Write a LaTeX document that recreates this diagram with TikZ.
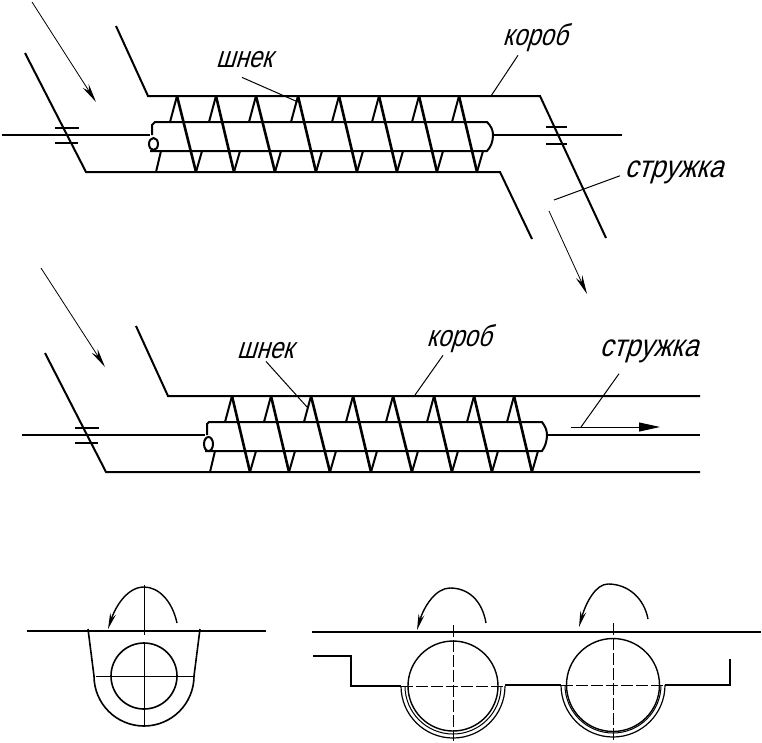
\documentclass[tikz,border=0pt]{standalone}
\usepackage{fontspec}
\usetikzlibrary{arrows.meta}
\newfontfamily\drawfont[FakeSlant=0.3,FakeStretch=0.8]{Liberation Sans}
\newfontfamily\widefont[FakeSlant=0.3,FakeStretch=0.86]{Liberation Sans}
\begin{document}
\begin{tikzpicture}[x=1pt,y=-1pt,
	wall/.style = {line width=2pt},
	shaft/.style = {line width=2pt},
	tooth/.style = {line width=2.6pt},
	fin/.style = {line width=2pt},
	thinline/.style = {line width=1pt},
	flow/.style = {line width=0.8pt,-{Stealth[length=19pt,width=7pt]}},
	spin/.style = {line width=1.4pt,-{Stealth[length=16pt,width=6pt]}},
	axisline/.style = {line width=1pt,dash pattern=on 12pt off 3pt},
	caption/.style = {inner sep=0pt,font=\drawfont\fontsize{30}{30}\selectfont},
	widecaption/.style = {inner sep=0pt,font=\widefont\fontsize{31}{31}\selectfont}]

	\useasboundingbox (0,0) rectangle (762,742);

	% top conveyor
	\node[caption] (shnekA) at (244,60) {шнек};
	\node[caption] (korobA) at (535,38) {короб};
	\node[widecaption] (struzhkaA) at (674,172) {стружка};

	\draw[wall] (116,26) -- (148,96) -- (540,96) -- (606,238);
	\draw[wall] (25,53) -- (86,172) -- (500,172) -- (532,239);
	\draw[flow] (32,2) -- (96,102);
	\draw[flow] (549,211) -- (587,294);
	\draw[shaft] (2,135) -- (150,135);
	\draw[shaft] (493,135) -- (622,135);
	\draw[thinline,line width=1.6pt] (55,128) -- (79,128) (55,143) -- (78,143);
	\draw[thinline,line width=1.6pt] (546,127) -- (567,127) (546,144) -- (567,144);
	\draw[shaft] (152,135) -- (152,125) -- (155,122) -- (487,122)
		.. controls (491,126) and (493,130) .. (493,135)
		.. controls (493,141) and (491,147) .. (487,151) -- (150,151);
	\draw[shaft] (153.5,144) ellipse [x radius=4.5pt,y radius=6pt];
	\foreach \a/\b in {177/196,216/234,256/275,298/316,339/357,379/397,419/437,459/477} {
		\draw[tooth] (\a,96) -- (\b,172);
		\draw[fin] (\a,96) -- (\a-7,122);
		\draw[fin] (\b,172) -- (\b+6,151);
	}
	\draw[fin] (156,172) -- (161,151);
	\draw[thinline] ([xshift=-2pt,yshift=-9pt]shnekA.south) -- (298,102);
	\draw[thinline] ([xshift=-17pt,yshift=-3pt]korobA.south) -- (491,96);
	\draw[thinline] ([xshift=-54pt,yshift=8pt]struzhkaA.south) -- (554,200);

	% middle conveyor
	\node[caption] (shnekB) at (265,351) {шнек};
	\node[caption] (korobB) at (459,339) {короб};
	\node[widecaption] (struzhkaB) at (649,351) {стружка};

	\draw[wall] (136,326) -- (168,396) -- (700,396);
	\draw[wall] (45,353) -- (106,472) -- (700,472);
	\draw[flow] (41,268) -- (105,367);
	\draw[shaft] (22,435) -- (205,435);
	\draw[shaft] (547,435) -- (700,435);
	\draw[thinline,line width=1.6pt] (75,428) -- (99,428) (75,443) -- (98,443);
	\draw[shaft] (207,435) -- (207,424) -- (209,422) -- (542,422)
		.. controls (545,426) and (547,430) .. (547,435)
		.. controls (547,441) and (545,447) .. (542,451) -- (205,451);
	\draw[shaft] (208.5,444) ellipse [x radius=4.5pt,y radius=7pt];
	\foreach \a/\b in {232/250,271/289,311/330,353/371,393/412,434/452,474/492,514/532} {
		\draw[tooth] (\a,396) -- (\b,472);
		\draw[fin] (\a,396) -- (\a-7,422);
		\draw[fin] (\b,472) -- (\b+6,451);
	}
	\draw[fin] (210,472) -- (215,451);
	\draw[thinline] ([xshift=1pt,yshift=-2pt]shnekB.south) -- (307,407);
	\draw[thinline] ([xshift=-16pt,yshift=-2pt]korobB.south) -- (415,395);
	\draw[thinline] ([xshift=-30pt,yshift=-11pt]struzhkaB.south) -- (581,427);
	\draw[thinline,-{Stealth[length=21pt,width=9pt,inset=0pt]}] (571,427) -- (660,427);

	% section with one screw
	\draw[wall] (27,631) -- (266,631);
	\draw[wall,line width=1.6pt] (88,629) -- (94,676) arc [start angle=180,end angle=360,radius=50pt] -- (200,629);
	\draw[wall,line width=1.6pt] (144,676) circle [radius=33pt];
	\draw[thinline] (144,585) -- (144,635) (144,643) -- (144,726);
	\draw[thinline] (96,676) -- (194,676);
	\draw[spin] (177,623) .. controls (172,600) and (158,587) .. (144,587)
		.. controls (128,587) and (116,605) .. (108,629);

	% section with two screws
	\draw[wall] (312,632) -- (761,632);
	\draw[wall] (313,656) -- (351,656) -- (351,686) -- (401,686);
	\draw[wall] (505,685) -- (561,685);
	\draw[wall] (665,685) -- (730,685) -- (730,659);
	\draw[line width=1.2pt] (401,686) arc [start angle=180,end angle=360,radius=52pt];
	\draw[line width=1.2pt] (561,685) arc [start angle=180,end angle=360,radius=52pt];
	\draw[line width=1pt] (405,686) arc [start angle=180,end angle=360,radius=48pt];
	\draw[line width=1pt] (565,685) arc [start angle=180,end angle=360,radius=48pt];
	\draw[line width=1.4pt] (453,686) circle [radius=45pt];
	\draw[line width=1.4pt] (613,685) circle [radius=46.5pt];
	\draw[axisline] (453,625) -- (453,741);
	\draw[axisline] (613,623) -- (613,741);
	\draw[axisline] (401,686) -- (505,686);
	\draw[axisline] (561,685) -- (665,685);
	\draw[spin] (486,623) .. controls (482,600) and (468,588) .. (450,588)
		.. controls (436,588) and (424,606) .. (417,630);
	\draw[spin] (648,619) .. controls (644,598) and (628,584) .. (608,584)
		.. controls (596,584) and (586,602) .. (579,627);
\end{tikzpicture}
\end{document}
